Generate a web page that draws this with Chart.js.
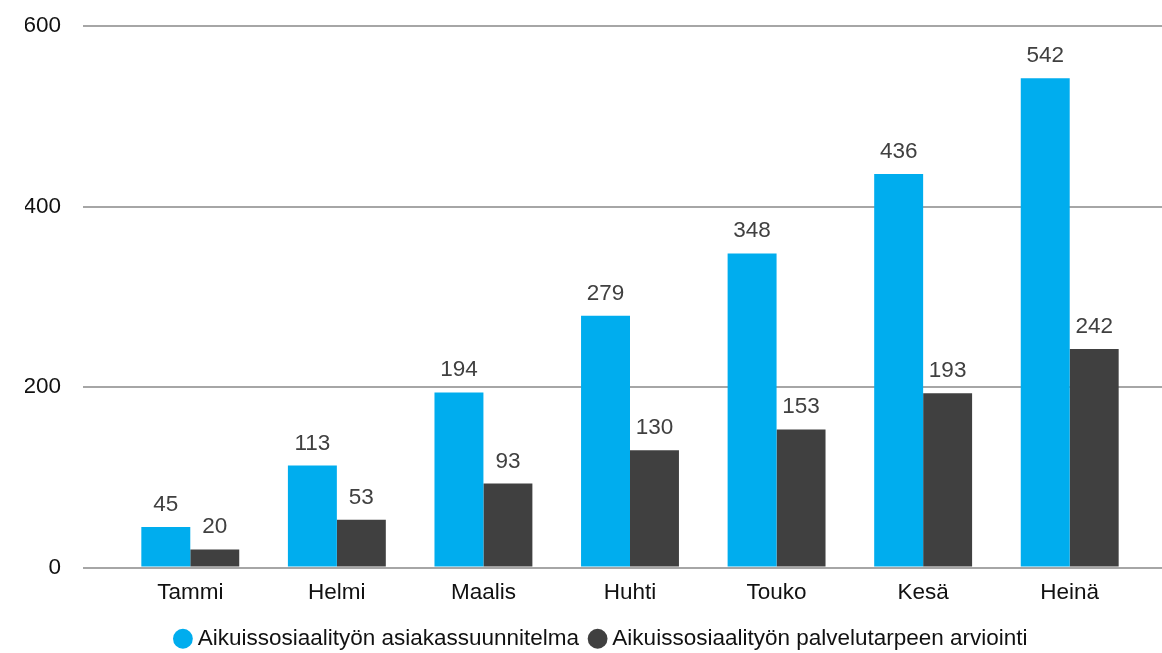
<!DOCTYPE html>
<html>
<head>
<meta charset="utf-8">
<script src="https://cdn.jsdelivr.net/npm/chart.js@4/dist/chart.umd.min.js"></script>
<style>
  html, body { margin: 0; padding: 0; background: #fff; }
  #wrap { width: 1162px; height: 653px; position: relative; }
</style>
</head>
<body>
<div id="wrap"><canvas id="chart"></canvas></div>
<script>
// Monthly counts, two service types.
const months = ["Tammi", "Helmi", "Maalis", "Huhti", "Touko", "Kesä", "Heinä"];
const planLabel = "Aikuissosiaalityön asiakassuunnitelma";
const planValues = [45, 113, 194, 279, 348, 436, 542];
const assessLabel = "Aikuissosiaalityön palvelutarpeen arviointi";
const assessValues = [20, 53, 93, 130, 153, 193, 242];
const yTicks = [0, 200, 400, 600];

const FONT = "'Liberation Sans', Arial, sans-serif";
const FS = 22.5;
const GRID = "#a6a6a6";

// Value labels above each bar (no datalabels plugin available offline).
const barValues = {
  id: "barValues",
  afterDatasetsDraw(chart) {
    const ctx = chart.ctx;
    ctx.save();
    ctx.font = FS + "px " + FONT;
    ctx.fillStyle = "#404040";
    ctx.textAlign = "center";
    ctx.textBaseline = "alphabetic";
    chart.data.datasets.forEach((ds, di) => {
      chart.getDatasetMeta(di).data.forEach((bar, i) => {
        ctx.fillText(String(ds.data[i]), bar.x, bar.y - 16);
      });
    });
    ctx.restore();
  },
};

new Chart(document.getElementById("chart"), {
  type: "bar",
  data: {
    labels: months,
    datasets: [
      { label: planLabel, data: planValues, backgroundColor: "#00adee", yAxisID: "y" },
      { label: assessLabel, data: assessValues, backgroundColor: "#404040", yAxisID: "y" },
    ],
  },
  options: {
    responsive: true,
    maintainAspectRatio: false,
    animation: false,
    categoryPercentage: 0.668,
    barPercentage: 1,
    // Negative bottom lets the legend keep its item spacing and still sit low;
    // negative right (absorbed by a wider y2 box) nudges the centred legend rightwards.
    layout: { padding: { left: 25, right: -20, top: 26, bottom: -7 } },
    scales: {
      x: {
        grid: { display: false, drawTicks: false },
        border: { display: false },
        ticks: { color: "#111", padding: 12, font: { family: FONT, size: FS } },
        afterFit: (s) => { s.height = 45; },
      },
      y: {
        min: 0,
        max: yTicks[yTicks.length - 1],
        afterBuildTicks: (s) => { s.ticks = yTicks.map((v) => ({ value: v })); },
        afterFit: (s) => {
          s.width = 92;
          s.paddingTop = 0;
          s.paddingBottom = 0;
        },
        grid: { color: GRID, lineWidth: 2, tickLength: 34, tickColor: GRID },
        border: { display: false },
        ticks: { color: "#111", padding: 22, font: { family: FONT, size: FS } },
      },
      // Right-hand stub so the gridlines run past the last category.
      y2: {
        position: "right",
        min: 0,
        max: yTicks[yTicks.length - 1],
        afterBuildTicks: (s) => { s.ticks = yTicks.map((v) => ({ value: v })); },
        afterFit: (s) => {
          s.width = 39;
          s.paddingTop = 0;
          s.paddingBottom = 0;
        },
        grid: { drawOnChartArea: false, color: GRID, lineWidth: 2, tickLength: 19, tickColor: GRID },
        border: { display: false },
        ticks: { display: false },
      },
    },
    plugins: {
      legend: {
        position: "bottom",
        labels: {
          usePointStyle: true,
          pointStyle: "circle",
          boxWidth: 7,
          boxHeight: 14,
          padding: 15,
          color: "#111",
          font: { family: FONT, size: FS },
        },
      },
      tooltip: { enabled: false },
    },
  },
  plugins: [barValues],
});
</script>
</body>
</html>
